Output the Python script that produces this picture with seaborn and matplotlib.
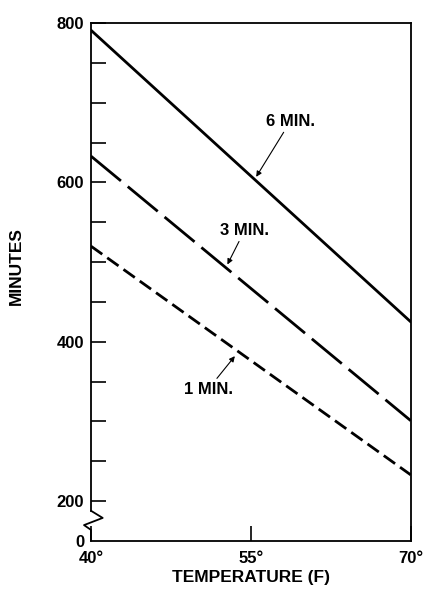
import pandas as pd
import seaborn as sns
import matplotlib.pyplot as plt

# chart values
temps = [40, 70]
mix_times = ['6 MIN.', '3 MIN.', '1 MIN.']
minutes_6 = [791, 425]
minutes_3 = [633, 301]
minutes_1 = [520, 233]
x_ticks = [40, 55, 70]
x_tick_labels = ['40°', '55°', '70°']
y_major = [200, 400, 600, 800]
y_minor = [250, 300, 350, 450, 500, 550, 650, 700, 750]

rows = []
for name, vals in zip(mix_times, [minutes_6, minutes_3, minutes_1]):
    for t, m in zip(temps, vals):
        rows.append({'temp': t, 'minutes': m, 'mix': name})
df = pd.DataFrame(rows)

sns.set_style('ticks')
plt.rcParams['font.family'] = ['Liberation Sans', 'DejaVu Sans']
plt.rcParams['font.weight'] = 'bold'
plt.rcParams['text.color'] = 'black'
plt.rcParams['axes.labelcolor'] = 'black'
plt.rcParams['xtick.color'] = 'black'
plt.rcParams['ytick.color'] = 'black'

fig = plt.figure(figsize=(4.27, 5.9), dpi=100)
ax = fig.add_axes([0.213, 0.083, 0.749, 0.878])

sns.lineplot(data=df, x='temp', y='minutes', style='mix', color='black',
             dashes={'6 MIN.': '', '3 MIN.': (14, 3.2), '1 MIN.': (5, 2.2)},
             linewidth=2.0, legend=False, ax=ax)

ax.set_xlim(40, 70)
ax.set_ylim(150, 800)
ax.set_xticks(x_ticks)
ax.set_xticklabels(x_tick_labels, fontsize=12, fontweight='bold')
ax.set_yticks([150] + y_major)
ax.set_yticklabels(['0'] + [str(v) for v in y_major], fontsize=12, fontweight='bold')
ax.set_yticks(y_minor, minor=True)
ax.tick_params(axis='both', which='both', direction='in', length=11, width=1.2,
               color='black')
ax.tick_params(axis='x', which='major', pad=7)
ax.tick_params(axis='y', which='major', pad=5)
ax.yaxis.get_major_ticks()[0].tick1line.set_visible(False)

for s in ax.spines.values():
    s.set_linewidth(1.3)
    s.set_color('black')
ax.spines['left'].set_bounds(188, 800)

# axis break zigzag near the bottom of the y axis
ax.plot([40, 41.1, 39.35, 40, 40], [188, 179, 170, 164, 150],
        color='black', lw=1.3, clip_on=False)

ax.set_xlabel('TEMPERATURE (F)', fontsize=12.5, fontweight='bold', labelpad=3)
ax.set_ylabel('MINUTES', fontsize=12.5, fontweight='bold')
ax.yaxis.set_label_coords(-0.21, 0.53)

arrow = dict(arrowstyle='-|>', color='black', lw=0.8, mutation_scale=8,
             shrinkA=0, shrinkB=0)
ax.annotate('6 MIN.', xy=(55.5, 607), xytext=(58.7, 667), fontsize=12,
            fontweight='bold', ha='center', va='bottom', arrowprops=arrow)
ax.annotate('3 MIN.', xy=(52.8, 497), xytext=(54.4, 530), fontsize=12,
            fontweight='bold', ha='center', va='bottom', arrowprops=arrow)
ax.annotate('1 MIN.', xy=(53.5, 382), xytext=(51.0, 350), fontsize=12,
            fontweight='bold', ha='center', va='top', arrowprops=arrow)

fig.savefig('out.png', dpi=100)
